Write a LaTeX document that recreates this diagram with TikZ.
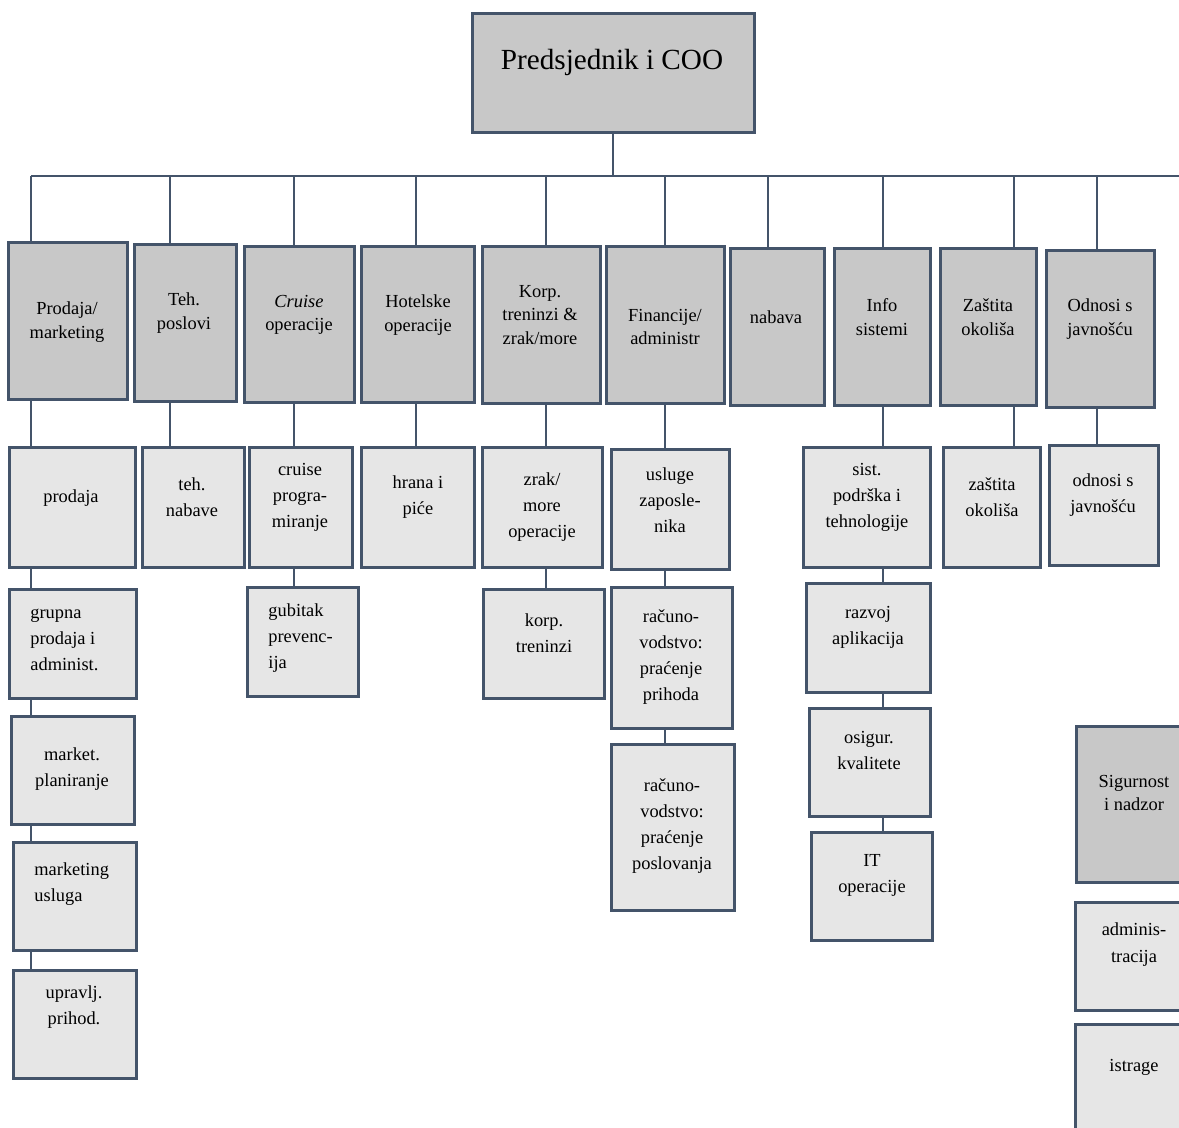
\documentclass[tikz,border=0pt]{standalone}
\usepackage{fontspec}
\setmainfont{Liberation Serif}
\usetikzlibrary{calc}
\definecolor{frame}{HTML}{44546A}
\definecolor{deptgray}{HTML}{C8C8C8}
\definecolor{unitgray}{HTML}{E6E6E6}
% box from corner (x1,y1) to (x2,y2), in pixels of the sheet
\newcommand{\orgbox}[6]{%
  \pgfmathsetmacro{\boxw}{(#5-#3)/2}%
  \pgfmathsetmacro{\boxh}{(#6-#4)/2}%
  \node[#1, minimum width=\boxw pt, minimum height=\boxh pt] (#2) at ({(#3+#5)/2}, {(#4+#6)/2}) {};}

\begin{document}
\begin{tikzpicture}[x=0.5pt, y=-0.5pt,
    dept/.style={draw=frame, fill=deptgray, line width=1.5pt},
    unit/.style={draw=frame, fill=unitgray, line width=1.5pt},
    link/.style={draw=frame, line width=0.8pt},
    lbl/.style={inner sep=0pt, align=center, font=\fontsize{9.2}{11.7}\selectfont},
    sublbl/.style={inner sep=0pt, align=center, font=\fontsize{9.2}{13}\selectfont},
    widelbl/.style={inner sep=0pt, align=center, font=\fontsize{9.2}{13.5}\selectfont}]
        \useasboundingbox (0,0) rectangle (1179,1128);
        \clip (0,0) rectangle (1179,1128);
        %
        \orgbox{dept}{ceo}{472}{14}{754}{133}
        \node[inner sep=0pt, font=\fontsize{14.6}{17}\selectfont] (ceo-t) at (612,62) {Predsjednik i COO};
        %
        \coordinate (c1)  at (31, 176);
        \coordinate (c2)  at (170, 176);
        \coordinate (c3)  at (294, 176);
        \coordinate (c4)  at (416, 176);
        \coordinate (c5)  at (546, 176);
        \coordinate (c6)  at (665, 176);
        \coordinate (c7)  at (768, 176);
        \coordinate (c8)  at (883, 176);
        \coordinate (c9)  at (1014, 176);
        \coordinate (c10) at (1097, 176);
        \coordinate (busend) at (1195, 176);
        %
        \orgbox{dept}{pm}{8}{243}{127}{400}
        \orgbox{dept}{tp}{134}{245}{236}{402}
        \orgbox{dept}{co}{244}{247}{354}{403}
        \orgbox{dept}{ho}{361}{247}{474}{403}
        \orgbox{dept}{kt}{482}{247}{600}{404}
        \orgbox{dept}{fa}{606}{247}{724}{404}
        \orgbox{dept}{nb}{730}{249}{824}{406}
        \orgbox{dept}{is}{834}{249}{930}{406}
        \orgbox{dept}{zo}{940}{249}{1036}{406}
        \orgbox{dept}{oj}{1046}{251}{1154}{408}
        \node[lbl] (pm-t) at (67,322) {Prodaja/\\marketing};
        \node[lbl] (tp-t) at (184,313) {Teh.\\poslovi};
        \node[lbl] (co-t) at (299,315) {\textit{Cruise}\\operacije};
        \node[lbl] (ho-t) at (418,315) {Hotelske\\operacije};
        \node[lbl] (kt-t) at (540,315) {Korp.\\treninzi \&\\zrak/more};
        \node[lbl] (fa-t) at (665,327) {Financije/\\administr};
        \node[lbl] (nb-t) at (776,317) {nabava};
        \node[lbl] (is-t) at (882,317) {Info\\sistemi};
        \node[lbl] (zo-t) at (988,317) {Zaštita\\okoliša};
        \node[lbl] (oj-t) at (1100,319) {Odnosi s\\javnošću};
        %
        \orgbox{unit}{prod}{9}{448}{135}{568}
        \orgbox{unit}{tn}{142}{448}{244}{568}
        \orgbox{unit}{cp}{249}{448}{352}{568}
        \orgbox{unit}{hp}{361}{448}{474}{568}
        \orgbox{unit}{zm}{482}{448}{602}{568}
        \orgbox{unit}{uz}{611}{450}{729}{570}
        \orgbox{unit}{sp}{803}{448}{930}{568}
        \orgbox{unit}{zok}{943}{448}{1040}{568}
        \orgbox{unit}{odn}{1049}{446}{1158}{566}
        \node[sublbl] (prod-t) at (71,498) {prodaja};
        \node[sublbl] (tn-t) at (192,497) {teh.\\nabave};
        \node[sublbl] (cp-t) at (300,497) {cruise\\progra-\\miranje};
        \node[sublbl] (hp-t) at (418,497) {hrana i\\piće};
        \node[sublbl] (zm-t) at (542,507) {zrak/\\more\\operacije};
        \node[sublbl] (uz-t) at (670,500) {usluge\\zaposle-\\nika};
        \node[sublbl] (sp-t) at (867,497) {sist.\\podrška i\\tehnologije};
        \node[sublbl] (zok-t) at (992,497) {zaštita\\okoliša};
        \node[sublbl] (odn-t) at (1103,495) {odnosi s\\javnošću};
        %
        \orgbox{unit}{grp}{9}{590}{136}{698}
        \orgbox{unit}{gp}{247}{588}{358}{696}
        \orgbox{unit}{ktr}{483}{590}{604}{698}
        \orgbox{unit}{rph}{611}{588}{732}{728}
        \orgbox{unit}{ra}{806}{584}{930}{692}
        \node[sublbl, anchor=west, align=left] (grp-t) at (30,640) {grupna\\prodaja i\\administ.};
        \node[sublbl, anchor=west, align=left] (gp-t) at (268,638) {gubitak\\prevenc-\\ija};
        \node[sublbl] (ktr-t) at (544,633) {korp.\\treninzi};
        \node[sublbl] (rph-t) at (671,657) {računo-\\vodstvo:\\praćenje\\prihoda};
        \node[sublbl] (ra-t) at (868,627) {razvoj\\aplikacija};
        %
        \orgbox{unit}{mp}{11}{716}{134}{824}
        \orgbox{unit}{rpp}{611}{744}{734}{910}
        \orgbox{unit}{ok}{809}{708}{930}{816}
        \node[sublbl] (mp-t) at (72,769) {market.\\planiranje};
        \node[sublbl] (rpp-t) at (672,826) {računo-\\vodstvo:\\praćenje\\poslovanja};
        \node[sublbl] (ok-t) at (869,750) {osigur.\\kvalitete};
        %
        \orgbox{unit}{mu}{13}{842}{136}{950}
        \orgbox{unit}{ito}{811}{832}{932}{940}
        \orgbox{unit}{up}{13}{970}{136}{1078}
        \node[sublbl, anchor=west, align=left] (mu-t) at (34,884) {marketing\\usluga};
        \node[sublbl] (ito-t) at (872,875) {IT\\operacije};
        \node[sublbl] (up-t) at (74,1007) {upravlj.\\prihod.};
        %
        \orgbox{dept}{sn}{1076}{726}{1200}{882}
        \orgbox{unit}{adm}{1075}{902}{1200}{1010}
        \orgbox{unit}{ist}{1075}{1024}{1200}{1145}
        \node[lbl] (sn-t) at (1134,793) {Sigurnost\\i nadzor};
        \node[widelbl] (adm-t) at (1134,945) {adminis-\\tracija};
        \node[widelbl] (ist-t) at (1134,1067) {istrage};
        %
        \draw[link] (ceo.south) -- (ceo.south |- c1);
        \draw[link] (c1) -- (busend);
        \foreach \c/\b in {c1/pm, c2/tp, c3/co, c4/ho, c5/kt, c6/fa, c7/nb, c8/is, c9/zo, c10/oj}
            \draw[link] (\c) -- (\b.north -| \c);
        \foreach \c/\u/\l in {c1/pm/prod, c1/prod/grp, c1/grp/mp, c1/mp/mu, c1/mu/up,
                              c2/tp/tn, c3/co/cp, c3/cp/gp, c4/ho/hp, c5/kt/zm, c5/zm/ktr,
                              c6/fa/uz, c6/uz/rph, c6/rph/rpp, c8/is/sp, c8/sp/ra, c8/ra/ok,
                              c8/ok/ito, c9/zo/zok, c10/oj/odn}
            \draw[link] (\u.south -| \c) -- (\l.north -| \c);
        %
    \end{tikzpicture}
\end{document}
